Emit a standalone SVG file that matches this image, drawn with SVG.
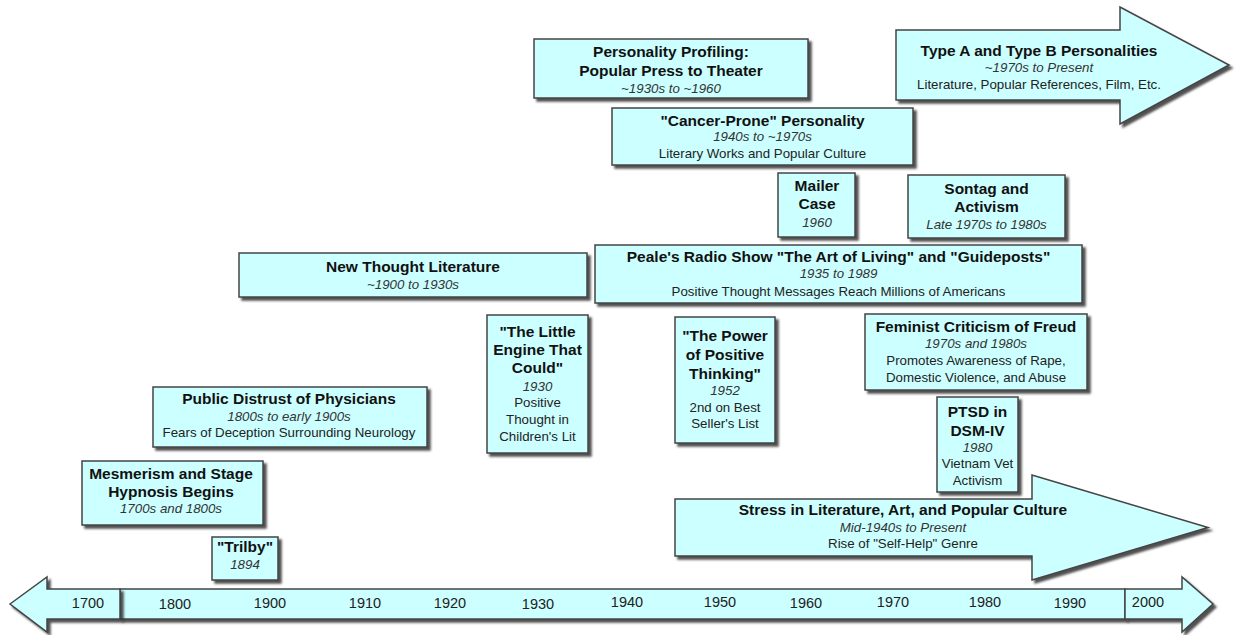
<svg xmlns="http://www.w3.org/2000/svg" width="1235" height="635" viewBox="0 0 1235 635">
<defs>
<filter id="sh" x="-10%" y="-10%" width="130%" height="140%">
<feDropShadow dx="3" dy="3" stdDeviation="0.9" flood-color="#333" flood-opacity="0.85"/>
</filter>
<style>
.box{fill:#ccffff;stroke:#444;stroke-width:1.5;filter:url(#sh)}
.t{font-family:"Liberation Sans",Arial,sans-serif;text-anchor:middle}
.b{font-size:15.5px;font-weight:bold;fill:#111}
.i{font-size:13.3px;font-style:italic;fill:#333}
.r{font-size:13.3px;fill:#222}
.y{font-family:"Liberation Sans",Arial,sans-serif;font-size:14.5px;fill:#222;text-anchor:middle}
</style>
</defs>
<rect width="1235" height="635" fill="#ffffff"/>

<g id="timeline">
<rect class="box" x="120" y="589" width="1005" height="30"/>
<path class="box" d="M10,604 L47,577 L47,589 L120,589 L120,619 L47,619 L47,632 Z"/>
<path class="box" d="M1125,589 L1182,589 L1182,577 L1213,604 L1182,632 L1182,619 L1125,619 Z"/>
<text class="y" x="88" y="608">1700</text>
<text class="y" x="175" y="609">1800</text>
<text class="y" x="270" y="608">1900</text>
<text class="y" x="365" y="608">1910</text>
<text class="y" x="450" y="608">1920</text>
<text class="y" x="538" y="609">1930</text>
<text class="y" x="627" y="607">1940</text>
<text class="y" x="720" y="607">1950</text>
<text class="y" x="806" y="608">1960</text>
<text class="y" x="893" y="607">1970</text>
<text class="y" x="985" y="607">1980</text>
<text class="y" x="1070" y="608">1990</text>
<text class="y" x="1148" y="607">2000</text>
</g>

<g id="connectors"></g>

<g id="personality-profiling">
<rect class="box" x="534" y="39" width="274" height="59"/>
<text class="t b" x="671" y="57">Personality Profiling:</text>
<text class="t b" x="671" y="75.5">Popular Press to Theater</text>
<text class="t i" x="671" y="92.5">~1930s to ~1960</text>
</g>

<g id="type-a-b">
<path class="box" d="M896,30 L1120,30 L1120,7 L1229,65 L1120,124 L1120,100 L896,100 Z"/>
<text class="t b" x="1039" y="55.5">Type A and Type B Personalities</text>
<text class="t i" x="1039" y="72">~1970s to Present</text>
<text class="t r" x="1039" y="89">Literature, Popular References, Film, Etc.</text>
</g>

<g id="cancer-prone">
<rect class="box" x="612" y="108" width="301" height="57"/>
<text class="t b" x="762.5" y="126">"Cancer-Prone" Personality</text>
<text class="t i" x="762.5" y="141">1940s to ~1970s</text>
<text class="t r" x="762.5" y="157.5">Literary Works and Popular Culture</text>
</g>

<g id="mailer-case">
<rect class="box" x="778" y="173" width="77" height="64"/>
<text class="t b" x="817" y="190.5">Mailer</text>
<text class="t b" x="817" y="209">Case</text>
<text class="t i" x="817" y="226.5">1960</text>
</g>

<g id="sontag">
<rect class="box" x="908" y="175" width="157" height="63"/>
<text class="t b" x="986.5" y="194">Sontag and</text>
<text class="t b" x="986.5" y="212">Activism</text>
<text class="t i" x="986.5" y="229">Late 1970s to 1980s</text>
</g>

<g id="peale">
<rect class="box" x="595" y="245" width="487" height="58"/>
<text class="t b" x="838.5" y="261.5">Peale's Radio Show "The Art of Living" and "Guideposts"</text>
<text class="t i" x="838.5" y="278">1935 to 1989</text>
<text class="t r" x="838.5" y="296">Positive Thought Messages Reach Millions of Americans</text>
</g>

<g id="new-thought">
<rect class="box" x="239" y="253" width="348" height="44"/>
<text class="t b" x="413" y="272.3">New Thought Literature</text>
<text class="t i" x="413" y="289.3">~1900 to 1930s</text>
</g>

<g id="little-engine">
<rect class="box" x="487" y="315" width="101" height="138"/>
<text class="t b" x="537.5" y="336.7">"The Little</text>
<text class="t b" x="537.5" y="355">Engine That</text>
<text class="t b" x="537.5" y="373.3">Could"</text>
<text class="t i" x="537.5" y="390.7">1930</text>
<text class="t r" x="537.5" y="407.3">Positive</text>
<text class="t r" x="537.5" y="424">Thought in</text>
<text class="t r" x="537.5" y="440.7">Children's Lit</text>
</g>

<g id="power-positive">
<rect class="box" x="675" y="317" width="100" height="126"/>
<text class="t b" x="725" y="341">"The Power</text>
<text class="t b" x="725" y="360">of Positive</text>
<text class="t b" x="725" y="379">Thinking"</text>
<text class="t i" x="725" y="395">1952</text>
<text class="t r" x="725" y="412.3">2nd on Best</text>
<text class="t r" x="725" y="428.3">Seller's List</text>
</g>

<g id="feminist">
<rect class="box" x="865" y="314" width="222" height="76"/>
<text class="t b" x="976" y="332.3">Feminist Criticism of Freud</text>
<text class="t i" x="976" y="348.3">1970s and 1980s</text>
<text class="t r" x="976" y="365">Promotes Awareness of Rape,</text>
<text class="t r" x="976" y="381.7">Domestic Violence, and Abuse</text>
</g>

<g id="ptsd">
<rect class="box" x="937" y="397" width="81" height="95"/>
<text class="t b" x="977.5" y="417.3">PTSD in</text>
<text class="t b" x="977.5" y="435.7">DSM-IV</text>
<text class="t i" x="977.5" y="451.7">1980</text>
<text class="t r" x="977.5" y="468.3">Vietnam Vet</text>
<text class="t r" x="977.5" y="485">Activism</text>
</g>

<g id="public-distrust">
<rect class="box" x="153" y="387" width="274" height="60"/>
<text class="t b" x="289" y="404.3">Public Distrust of Physicians</text>
<text class="t i" x="289" y="420.7">1800s to early 1900s</text>
<text class="t r" x="289" y="437.3">Fears of Deception Surrounding Neurology</text>
</g>

<g id="mesmerism">
<rect class="box" x="82" y="461" width="181" height="64"/>
<text class="t b" x="171" y="479">Mesmerism and Stage</text>
<text class="t b" x="171" y="497.3">Hypnosis Begins</text>
<text class="t i" x="171" y="513.3">1700s and 1800s</text>
</g>

<g id="trilby">
<rect class="box" x="212" y="537" width="66" height="43"/>
<text class="t b" x="245" y="552.3">"Trilby"</text>
<text class="t i" x="245" y="569">1894</text>
</g>

<g id="stress">
<path class="box" d="M675,499 L1032,499 L1032,475 L1208,527.5 L1032,580 L1032,556 L675,556 Z"/>
<text class="t b" x="903" y="515">Stress in Literature, Art, and Popular Culture</text>
<text class="t i" x="903" y="531.7">Mid-1940s to Present</text>
<text class="t r" x="903" y="548.3">Rise of "Self-Help" Genre</text>
</g>
</svg>
